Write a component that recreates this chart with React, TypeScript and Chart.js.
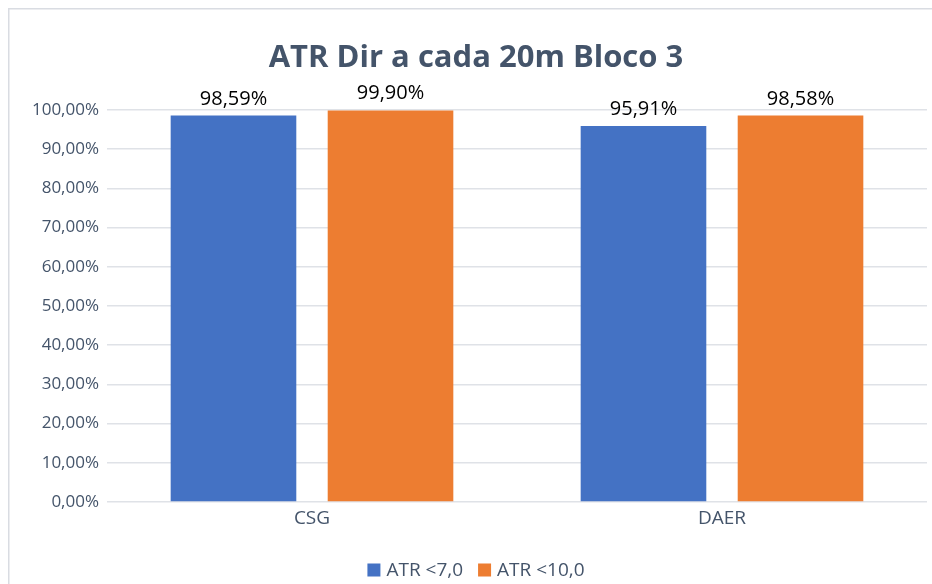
import React, { useEffect, useRef } from "react";
import { Chart, registerables } from "chart.js";

Chart.register(...registerables);

const categories = ["CSG", "DAER"];
const seriesNames = ["ATR <7,0", "ATR <10,0"];
const seriesColors = ["#4472c4", "#ed7d31"];
const atr7Values = [98.59, 95.91];
const atr10Values = [99.9, 98.58];
const titleText = "ATR Dir a cada 20m Bloco 3";

const fmt = (v: number) => v.toFixed(2).replace(".", ",") + "%";
const SLATE = "#44546a";

const decorPlugin = {
  id: "decor",
  beforeDraw(chart: any) {
    const ctx = chart.ctx;
    ctx.save();
    ctx.fillStyle = "#ffffff";
    ctx.fillRect(0, 0, chart.width, chart.height);
    ctx.strokeStyle = "#d9dce2";
    ctx.lineWidth = 1.5;
    ctx.beginPath();
    ctx.moveTo(0.75, chart.height);
    ctx.lineTo(0.75, 0.75);
    ctx.lineTo(chart.width, 0.75);
    ctx.stroke();
    ctx.restore();
  },
  afterDraw(chart: any) {
    const ctx = chart.ctx;
    ctx.save();
    ctx.font = "bold 31px 'Open Sans'";
    ctx.fillStyle = SLATE;
    ctx.textAlign = "center";
    ctx.textBaseline = "alphabetic";
    ctx.fillText(chart.options.plugins.title.text, 468, 59);
    ctx.font = "19px 'Open Sans'";
    const box = 13;
    const gap = 6;
    const spacing = 15;
    const items = chart.data.datasets.map((ds: any) => ({
      text: ds.label,
      color: ds.backgroundColor,
      w: ctx.measureText(ds.label).width,
    }));
    const total =
      items.reduce((a: number, it: any) => a + box + gap + it.w, 0) +
      spacing * (items.length - 1);
    let x = 468 - total / 2;
    const cy = 562;
    ctx.textAlign = "left";
    ctx.textBaseline = "middle";
    items.forEach((it: any) => {
      ctx.fillStyle = it.color;
      ctx.fillRect(x, cy - box / 2, box, box);
      x += box + gap;
      ctx.fillStyle = SLATE;
      ctx.fillText(it.text, x, cy + 1);
      x += it.w + spacing;
    });
    ctx.restore();
  },
  afterDatasetsDraw(chart: any) {
    const ctx = chart.ctx;
    ctx.save();
    ctx.font = "20px 'Open Sans'";
    ctx.fillStyle = "#000000";
    ctx.textAlign = "center";
    ctx.textBaseline = "alphabetic";
    chart.data.datasets.forEach((ds: any, i: number) => {
      const meta = chart.getDatasetMeta(i);
      meta.data.forEach((bar: any, j: number) => {
        ctx.fillText(fmt(ds.data[j]), bar.x, bar.y - 11);
      });
    });
    ctx.restore();
  },
};

export default function App() {
  const ref = useRef<HTMLCanvasElement | null>(null);
  useEffect(() => {
    document.documentElement.style.overflow = "hidden";
    document.body.style.overflow = "hidden";
    if (!ref.current) return;
    const chart = new Chart(ref.current, {
      type: "bar",
      data: {
        labels: categories,
        datasets: [
          {
            label: seriesNames[0],
            data: atr7Values,
            backgroundColor: seriesColors[0],
            categoryPercentage: 0.766,
            barPercentage: 0.8,
          },
          {
            label: seriesNames[1],
            data: atr10Values,
            backgroundColor: seriesColors[1],
            categoryPercentage: 0.766,
            barPercentage: 0.8,
          },
        ],
      },
      options: {
        animation: false,
        responsive: false,
        layout: { padding: { left: 0, right: 5, top: 102, bottom: 52 } },
        plugins: {
          title: { display: false, text: titleText },
          legend: { display: false },
          tooltip: { enabled: false },
        },
        scales: {
          x: {
            grid: { display: false, drawTicks: false },
            border: { display: false },
            ticks: {
              color: SLATE,
              font: { family: "'Open Sans'", size: 19 },
              padding: 5,
            },
            afterFit: (s: any) => {
              s.height = 30;
            },
          },
          y: {
            min: 0,
            max: 100,
            ticks: {
              stepSize: 10,
              color: SLATE,
              font: { family: "'Open Sans'", size: 17 },
              padding: 8,
              callback: (v: any) => fmt(Number(v)),
            },
            grid: { color: "#dfe2e7", lineWidth: 1.5, drawTicks: false },
            border: { display: false },
            afterFit: (s: any) => {
              s.width = 99;
            },
          },
        },
      },
      plugins: [decorPlugin],
    });
    return () => chart.destroy();
  }, []);

  return (
    <canvas
      ref={ref}
      width={924}
      height={576}
      style={{ display: "block", position: "fixed", left: 8, top: 8 }}
    />
  );
}
